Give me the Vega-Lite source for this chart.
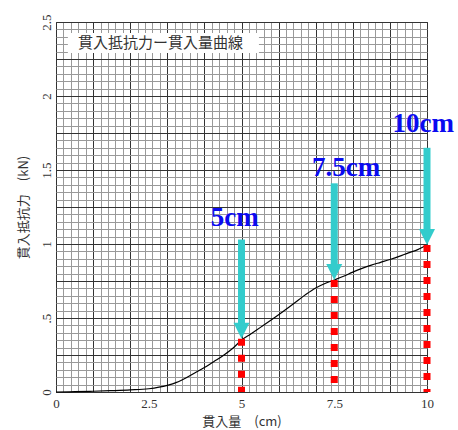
{
  "$schema": "https://vega.github.io/schema/vega-lite/v6.json",
  "autosize": {"type": "none"},
  "padding": {"left": 56, "top": 22, "right": 31, "bottom": 38},
  "width": 371,
  "height": 370,
  "background": "white",
  "config": {
    "view": {"stroke": "#333333", "strokeWidth": 1},
    "axis": {"labelFont": "Liberation Serif", "labelFontSize": 13, "labelColor": "#333333", "labelFlush": false, "titleFont": "Noto Sans CJK JP", "titleFontSize": 13, "titleFontWeight": "normal", "titleColor": "#333333"}
  },
  "datasets": {
    "curve": [
      {"x": 0, "y": 0}, {"x": 0.5, "y": 0.002}, {"x": 1, "y": 0.005}, {"x": 1.5, "y": 0.009},
      {"x": 2, "y": 0.014}, {"x": 2.5, "y": 0.022}, {"x": 3, "y": 0.045}, {"x": 3.25, "y": 0.065},
      {"x": 3.5, "y": 0.095}, {"x": 3.75, "y": 0.13}, {"x": 4, "y": 0.165}, {"x": 4.25, "y": 0.205},
      {"x": 4.5, "y": 0.245}, {"x": 4.75, "y": 0.292}, {"x": 5, "y": 0.35}, {"x": 5.25, "y": 0.392},
      {"x": 5.5, "y": 0.435}, {"x": 5.75, "y": 0.478}, {"x": 6, "y": 0.522}, {"x": 6.25, "y": 0.568},
      {"x": 6.5, "y": 0.615}, {"x": 6.75, "y": 0.662}, {"x": 7, "y": 0.703}, {"x": 7.25, "y": 0.733},
      {"x": 7.5, "y": 0.757}, {"x": 7.75, "y": 0.782}, {"x": 8, "y": 0.81}, {"x": 8.25, "y": 0.835},
      {"x": 8.5, "y": 0.857}, {"x": 8.75, "y": 0.876}, {"x": 9, "y": 0.895}, {"x": 9.25, "y": 0.916},
      {"x": 9.5, "y": 0.94}, {"x": 9.75, "y": 0.962}, {"x": 10, "y": 0.993}
    ],
    "markers": [
      {"x": 5, "tip": 0.36, "top": 1.03, "lx": 4.82, "ly": 1.12, "label": "5cm"},
      {"x": 7.5, "tip": 0.757, "top": 1.41, "lx": 7.82, "ly": 1.46, "label": "7.5cm"},
      {"x": 10, "tip": 0.993, "top": 1.65, "lx": 9.9, "ly": 1.76, "label": "10cm"}
    ],
    "annot": [
      {"x1": 0.32, "x2": 5.47, "y1": 2.29, "y2": 2.426, "tx": 0.59, "ty": 2.36, "text": "貫入抵抗力ー貫入量曲線"}
    ]
  },
  "layer": [
    {
      "data": {"name": "curve"},
      "mark": {"type": "line", "color": "black", "strokeWidth": 1.2, "interpolate": "monotone"},
      "encoding": {
        "x": {
          "field": "x", "type": "quantitative",
          "scale": {"domain": [0, 10], "nice": false, "zero": false},
          "axis": {
            "title": "貫入量　(cm)",
            "titlePadding": 5,
            "tickCount": 200,
            "values": [0,0.2,0.4,0.6,0.8,1,1.2,1.4,1.6,1.8,2,2.2,2.4,2.5,2.6,2.8,3,3.2,3.4,3.6,3.8,4,4.2,4.4,4.6,4.8,5,5.2,5.4,5.6,5.8,6,6.2,6.4,6.6,6.8,7,7.2,7.4,7.5,7.6,7.8,8,8.2,8.4,8.6,8.8,9,9.2,9.4,9.6,9.8,10],
            "grid": true,
            "gridColor": {"condition": {"test": "abs(datum.value - round(datum.value)) < 0.001", "value": "#333333"}, "value": "#999999"},
            "gridOpacity": {"condition": {"test": "abs(datum.value*5 - round(datum.value*5)) > 0.001", "value": 0}, "value": 1},
            "ticks": false,
            "domain": false,
            "labelPadding": 5,
            "labelOverlap": false,
            "labelExpr": "abs(datum.value/2.5 - round(datum.value/2.5)) < 0.001 ? format(datum.value, '.1~f') : ''"
          }
        },
        "y": {
          "field": "y", "type": "quantitative",
          "scale": {"domain": [0, 2.5], "nice": false, "zero": false},
          "axis": {
            "title": "貫入抵抗力　(kN)",
            "titlePadding": 10,
            "tickCount": 200,
            "values": [0,0.05,0.1,0.15,0.2,0.25,0.3,0.35,0.4,0.45,0.5,0.55,0.6,0.65,0.7,0.75,0.8,0.85,0.9,0.95,1,1.05,1.1,1.15,1.2,1.25,1.3,1.35,1.4,1.45,1.5,1.55,1.6,1.65,1.7,1.75,1.8,1.85,1.9,1.95,2,2.05,2.1,2.15,2.2,2.25,2.3,2.35,2.4,2.45,2.5],
            "grid": true,
            "gridColor": {"condition": {"test": "abs(datum.value*4 - round(datum.value*4)) < 0.001", "value": "#333333"}, "value": "#999999"},
            "ticks": false,
            "domain": false,
            "labelAngle": 270,
            "labelPadding": 3,
            "labelOverlap": false,
            "labelExpr": "abs(datum.value*2 - round(datum.value*2)) < 0.001 ? (abs(datum.value - 0.5) < 0.001 ? '.5' : format(datum.value, '.1~f')) : ''"
          }
        }
      }
    },
    {
      "data": {"name": "markers"},
      "mark": {"type": "rule", "color": "#ff0000", "strokeWidth": 7, "strokeDash": [7, 9]},
      "encoding": {
        "x": {"field": "x", "type": "quantitative"},
        "y": {"field": "tip", "type": "quantitative"},
        "y2": {"datum": 0}
      }
    },
    {
      "data": {"name": "markers"},
      "mark": {"type": "rule", "color": "#33cccc", "strokeWidth": 7, "y2Offset": -14},
      "encoding": {
        "x": {"field": "x", "type": "quantitative"},
        "y": {"field": "top", "type": "quantitative"},
        "y2": {"field": "tip"}
      }
    },
    {
      "data": {"name": "markers"},
      "mark": {"type": "point", "shape": "M-1,-2L1,-2L0,0Z", "size": 256, "filled": true, "color": "#33cccc", "opacity": 1},
      "encoding": {
        "x": {"field": "x", "type": "quantitative"},
        "y": {"field": "tip", "type": "quantitative"}
      }
    },
    {
      "data": {"name": "markers"},
      "mark": {"type": "text", "font": "Liberation Serif", "fontWeight": "bold", "fontSize": 27, "color": "#0a0af0", "align": "center", "baseline": "alphabetic"},
      "encoding": {
        "x": {"field": "lx", "type": "quantitative"},
        "y": {"field": "ly", "type": "quantitative"},
        "text": {"field": "label"}
      }
    },
    {
      "data": {"name": "annot"},
      "mark": {"type": "rect", "fill": "white"},
      "encoding": {
        "x": {"field": "x1", "type": "quantitative"},
        "x2": {"field": "x2"},
        "y": {"field": "y1", "type": "quantitative"},
        "y2": {"field": "y2"}
      }
    },
    {
      "data": {"name": "annot"},
      "mark": {"type": "text", "font": "Noto Sans CJK JP", "fontSize": 15, "color": "#333333", "align": "left", "baseline": "middle"},
      "encoding": {
        "x": {"field": "tx", "type": "quantitative"},
        "y": {"field": "ty", "type": "quantitative"},
        "text": {"field": "text"}
      }
    }
  ]
}
